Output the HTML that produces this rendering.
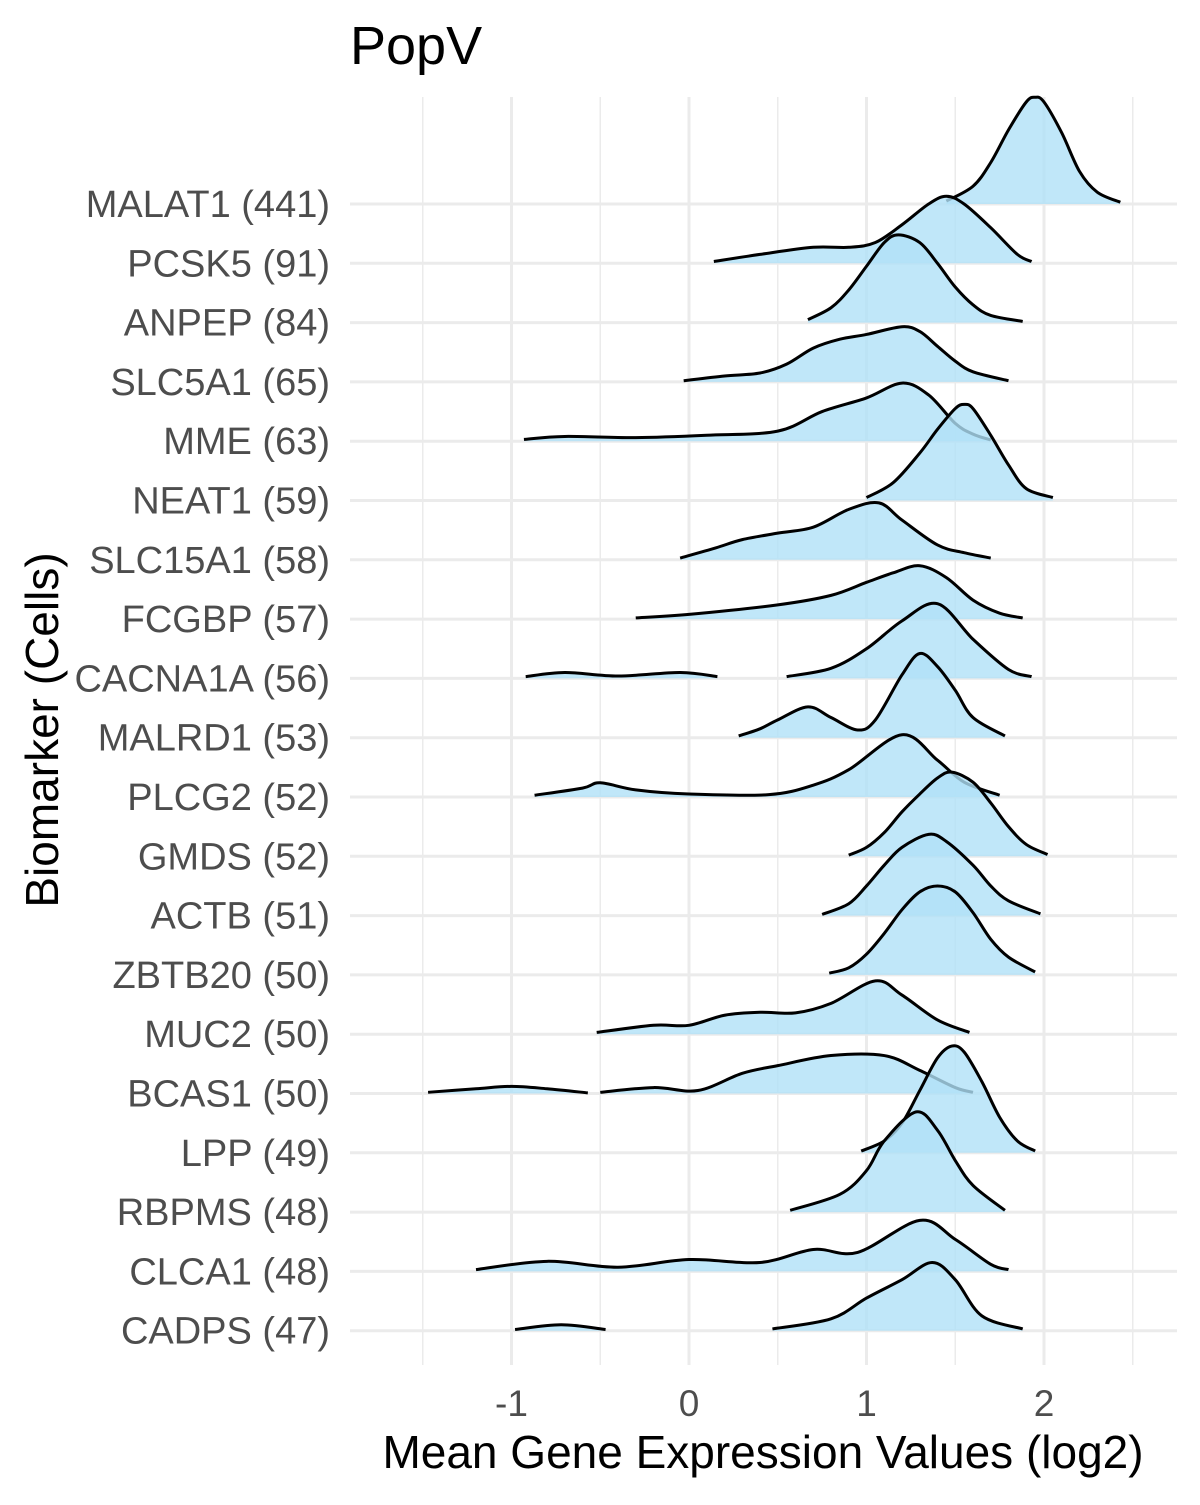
<!DOCTYPE html>
<html><head><meta charset="utf-8"><style>
body{margin:0;background:#fff}
svg text{font-family:"Liberation Sans",Arial,sans-serif}
</style></head><body>
<svg id="chart" width="1200" height="1500" viewBox="0 0 1200 1500" xmlns="http://www.w3.org/2000/svg">
<text x="350" y="64" font-size="54" fill="#000">PopV</text>
<g id="grid"></g>
<g id="ridges"></g>
<g id="ylabels"></g>
<g id="xlabels"></g>
<text x="763" y="1468" font-size="46" text-anchor="middle" fill="#000">Mean Gene Expression Values (log2)</text>
<text transform="translate(58,730) rotate(-90)" font-size="46" text-anchor="middle" fill="#000">Biomarker (Cells)</text>
</svg>
<script>
const categories = ["MALAT1 (441)","PCSK5 (91)","ANPEP (84)","SLC5A1 (65)","MME (63)","NEAT1 (59)","SLC15A1 (58)","FCGBP (57)","CACNA1A (56)","MALRD1 (53)","PLCG2 (52)","GMDS (52)","ACTB (51)","ZBTB20 (50)","MUC2 (50)","BCAS1 (50)","LPP (49)","RBPMS (48)","CLCA1 (48)","CADPS (47)"];
const xTicks = [-1,0,1,2];
const xMinor = [-1.5,-0.5,0.5,1.5,2.5];
// density x positions (null splits segments) and heights (in row units)
const densX = [
[1.45,1.6,1.7,1.8,1.9,1.95,2.0,2.1,2.2,2.3,2.43],
[0.14,0.4,0.7,0.9,1.05,1.2,1.35,1.45,1.55,1.7,1.85,1.93],
[0.67,0.8,0.9,1.0,1.1,1.18,1.3,1.4,1.5,1.6,1.7,1.88],
[-0.03,0.2,0.4,0.55,0.7,0.85,1.0,1.2,1.3,1.4,1.5,1.6,1.8],
[-0.93,-0.7,-0.3,0.1,0.5,0.75,1.0,1.2,1.35,1.5,1.6,1.7],
[1.0,1.15,1.3,1.4,1.5,1.55,1.6,1.7,1.8,1.9,2.05],
[-0.05,0.15,0.3,0.5,0.7,0.9,1.07,1.2,1.4,1.55,1.7],
[-0.3,0,0.5,0.8,1.0,1.15,1.3,1.45,1.6,1.75,1.88],
[-0.92,-0.7,-0.4,-0.05,0.16,null,0.55,0.8,1.0,1.2,1.4,1.6,1.8,1.93],
[0.28,0.4,0.5,0.67,0.8,0.95,1.05,1.2,1.3,1.4,1.5,1.6,1.78],
[-0.87,-0.6,-0.5,-0.3,0,0.45,0.7,0.9,1.2,1.4,1.55,1.75],
[0.9,1.0,1.1,1.2,1.3,1.4,1.48,1.6,1.7,1.8,1.9,2.02],
[0.75,0.9,1.0,1.1,1.2,1.35,1.45,1.6,1.7,1.8,1.98],
[0.79,0.9,1.0,1.1,1.2,1.3,1.4,1.5,1.6,1.7,1.8,1.95],
[-0.52,-0.2,0,0.2,0.4,0.6,0.8,1.05,1.2,1.4,1.58],
[-1.47,-1.2,-1.0,-0.8,-0.57,null,-0.5,-0.2,0.05,0.3,0.5,0.8,1.1,1.3,1.5,1.6],
[0.97,1.1,1.2,1.3,1.4,1.48,1.55,1.65,1.75,1.85,1.95],
[0.57,0.85,1.0,1.1,1.28,1.4,1.5,1.6,1.78],
[-1.2,-0.8,-0.4,0,0.4,0.7,0.95,1.3,1.5,1.7,1.8],
[-0.98,-0.72,-0.47,null,0.47,0.8,1.0,1.2,1.37,1.5,1.65,1.88]
];
const densH = [
[0.05,0.3,0.7,1.25,1.72,1.80,1.72,1.2,0.55,0.2,0.03],
[0.03,0.15,0.27,0.27,0.35,0.65,1.0,1.13,1.0,0.6,0.15,0.03],
[0.05,0.25,0.55,0.95,1.35,1.48,1.35,1.0,0.6,0.3,0.12,0.02],
[0.02,0.1,0.15,0.3,0.57,0.72,0.8,0.93,0.85,0.6,0.35,0.17,0.02],
[0.03,0.08,0.06,0.1,0.17,0.5,0.73,0.98,0.78,0.3,0.12,0.02],
[0.05,0.3,0.8,1.2,1.55,1.62,1.55,1.1,0.6,0.2,0.05],
[0.03,0.2,0.34,0.45,0.55,0.85,0.96,0.67,0.25,0.12,0.03],
[0.02,0.08,0.24,0.4,0.62,0.78,0.9,0.7,0.32,0.1,0.02],
[0.03,0.1,0.04,0.1,0.03,null,0.03,0.17,0.5,0.97,1.26,0.66,0.15,0.03],
[0.03,0.15,0.3,0.52,0.34,0.13,0.3,1.06,1.42,1.2,0.8,0.34,0.03],
[0.03,0.15,0.24,0.12,0.05,0.04,0.2,0.46,1.05,0.62,0.25,0.03],
[0.02,0.15,0.4,0.75,1.05,1.32,1.42,1.25,0.9,0.5,0.2,0.03],
[0.02,0.2,0.5,0.85,1.15,1.37,1.25,0.85,0.5,0.25,0.03],
[0.03,0.12,0.35,0.7,1.1,1.4,1.5,1.4,1.05,0.6,0.3,0.05],
[0.03,0.15,0.15,0.32,0.37,0.36,0.52,0.9,0.66,0.24,0.03],
[0.02,0.08,0.12,0.08,0.01,null,0.02,0.1,0.05,0.34,0.47,0.64,0.64,0.39,0.1,0.02],
[0.03,0.2,0.5,1.05,1.6,1.8,1.7,1.2,0.6,0.2,0.03],
[0.03,0.3,0.7,1.2,1.69,1.38,0.87,0.45,0.03],
[0.03,0.17,0.07,0.2,0.15,0.37,0.32,0.86,0.54,0.12,0.03],
[0.02,0.1,0.02,null,0.03,0.2,0.55,0.86,1.15,0.86,0.25,0.03]
];
const NS='http://www.w3.org/2000/svg';
const X0=689, XS=177.5, Y0=204, ROW=59.3, PL=350, PR=1177, PT=97, PB=1365;
const xs = v => X0 + v*XS;
const yBase = i => Y0 + i*ROW;
const hS = h => h*ROW;
function mk(tag, attrs, parent){const e=document.createElementNS(NS,tag);for(const k in attrs)e.setAttribute(k,attrs[k]);parent.appendChild(e);return e;}
const grid=document.getElementById('grid');
xMinor.forEach(v=>{const l=mk('line',{x1:xs(v),x2:xs(v),y1:PT,y2:PB,stroke:'#ebebeb','stroke-width':1.5},grid);

});
xTicks.forEach(v=>{const l=mk('line',{x1:xs(v),x2:xs(v),y1:PT,y2:PB,stroke:'#ebebeb','stroke-width':3},grid);

});
categories.forEach((c,i)=>{const l=mk('line',{x1:PL,x2:PR,y1:yBase(i),y2:yBase(i),stroke:'#ebebeb','stroke-width':3},grid);

});
function smooth(pts){let d='M'+pts[0][0]+','+pts[0][1];
for(let i=0;i<pts.length-1;i++){const p0=pts[Math.max(0,i-1)],p1=pts[i],p2=pts[i+1],p3=pts[Math.min(pts.length-1,i+2)];
const c1x=p1[0]+(p2[0]-p0[0])/6,c1y=p1[1]+(p2[1]-p0[1])/6,c2x=p2[0]-(p3[0]-p1[0])/6,c2y=p2[1]-(p3[1]-p1[1])/6;
d+=` C${c1x},${c1y} ${c2x},${c2y} ${p2[0]},${p2[1]}`;}return d;}
const ridges=document.getElementById('ridges');
categories.forEach((c,i)=>{
  const g=mk('g',{},ridges);
  
  
  const segs=[];let cur=[];
  densX[i].forEach((x,j)=>{if(x===null){segs.push(cur);cur=[];}else cur.push([xs(x),yBase(i)-hS(densH[i][j])]);});
  segs.push(cur);
  segs.forEach(s=>{const line=smooth(s);const b=yBase(i);
    const f=mk('path',{d:line+` L${s[s.length-1][0]},${b} L${s[0][0]},${b} Z`,fill:'rgba(176,225,247,0.8)',stroke:'none'},g);
    
    
    const p=mk('path',{d:line,fill:'none',stroke:'#000','stroke-width':3,'stroke-linejoin':'round'},g);
    
    });
});
const yl=document.getElementById('ylabels');
categories.forEach((c,i)=>{const t=mk('text',{x:330,y:yBase(i)+13,'font-size':38,'text-anchor':'end',fill:'#4d4d4d'},yl);t.textContent=c;

});
const xl=document.getElementById('xlabels');
xTicks.forEach(v=>{const t=mk('text',{x:xs(v),y:1416,'font-size':37,'text-anchor':'middle',fill:'#4d4d4d'},xl);t.textContent=v;

});
</script>
</body></html>
